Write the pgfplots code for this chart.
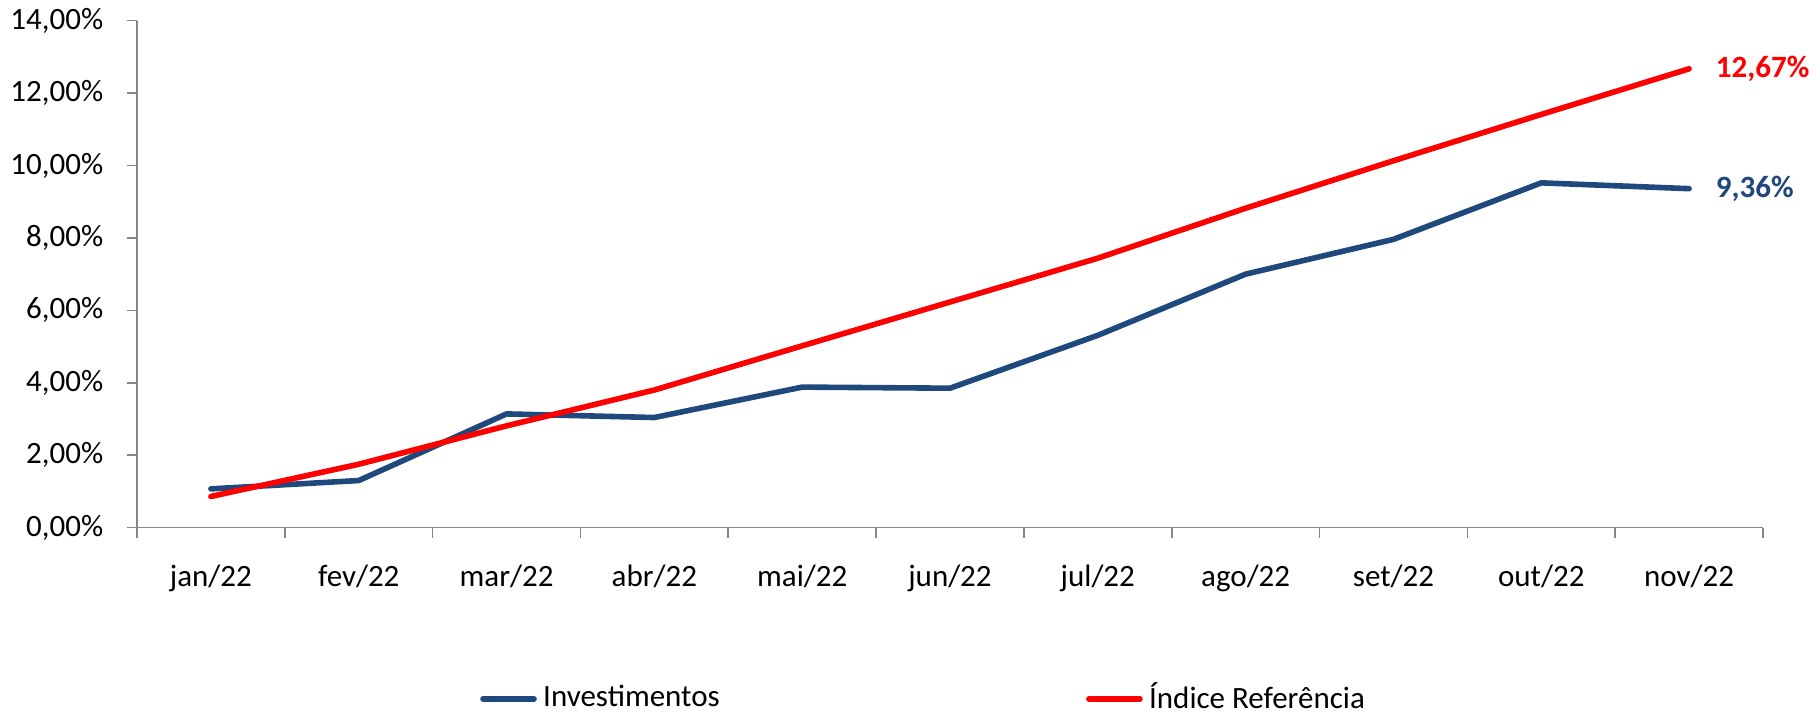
\documentclass[border=0pt]{standalone}
\usepackage{fontspec}
\setmainfont{Carlito}
\usepackage{pgfplots}
\pgfplotsset{compat=1.18}
\definecolor{invblue}{RGB}{31,73,125}
\definecolor{axgray}{RGB}{134,134,134}
\newcommand{\chartfont}{\fontsize{7.75}{9}\selectfont}
\begin{document}
\begin{tikzpicture}
% 1 px of the reference = 0.25pt
\path[use as bounding box] (-34.25pt,-46.08pt) rectangle (419.75pt,131.9pt);
\begin{axis}[
    scale only axis,
    width=406.5pt, height=126.75pt,
    at={(0pt,0pt)}, anchor=south west,
    clip=false,
    xmin=-0.5, xmax=10.5,
    ymin=0, ymax=14,
    axis x line*=bottom, axis y line*=left,
    axis line style={axgray, line width=0.4pt},
    tick align=outside,
    major tick length=2.5pt,
    tick style={axgray, line width=0.4pt},
    xtick={-0.5,0.5,...,10.5},
    x tick label as interval,
    xticklabels={jan/22,fev/22,mar/22,abr/22,mai/22,jun/22,jul/22,ago/22,set/22,out/22,nov/22},
    ytick={0,2,...,14},
    /pgf/number format/assume math mode=true,
    yticklabel={\pgfmathprintnumber[fixed,fixed zerofill,precision=2,use comma]{\tick}\%},
    every tick label/.append style={font=\chartfont, text=black, inner sep=0pt},
    yticklabel style={anchor=east, xshift=-5.75pt},
    xticklabel style={anchor=base, yshift=-12.25pt},
    legend columns=2,
    legend cell align=left,
    legend style={
        at={(0.2106,-0.3379)}, anchor=west,
        draw=none, fill=none, inner sep=0pt,
        font=\chartfont,
        nodes={inner xsep=1.6pt, inner ysep=0pt},
        /tikz/every even column/.append style={column sep=90pt},
    },
    legend image code/.code={\draw[#1, line cap=round] (0pt,0pt) -- (12.75pt,0pt);},
    point meta=explicit symbolic,
    nodes near coords,
    nodes near coords align={anchor=west},
    every node near coord/.append style={font=\chartfont\bfseries, inner sep=0pt, anchor=west, xshift=6pt},
]
\addplot[invblue, line width=1.4pt, line join=round, line cap=round,
    every node near coord/.append style={text=invblue}] coordinates {
    (0,1.07) [] (1,1.30) [] (2,3.14) [] (3,3.04) [] (4,3.88) [] (5,3.85) []
    (6,5.31) [] (7,7.00) [] (8,7.96) [] (9,9.52) [] (10,9.36) [9,36\%]
};
\addlegendentry{Investimentos}
\addplot[red, line width=1.4pt, line join=round, line cap=round,
    every node near coord/.append style={text=red}] coordinates {
    (0,0.86) [] (1,1.75) [] (2,2.81) [] (3,3.80) [] (4,5.02) [] (5,6.23) []
    (6,7.44) [] (7,8.82) [] (8,10.13) [] (9,11.41) [] (10,12.67) [12,67\%]
};
\addlegendentry{Índice Referência}
\end{axis}
\end{tikzpicture}
\end{document}
